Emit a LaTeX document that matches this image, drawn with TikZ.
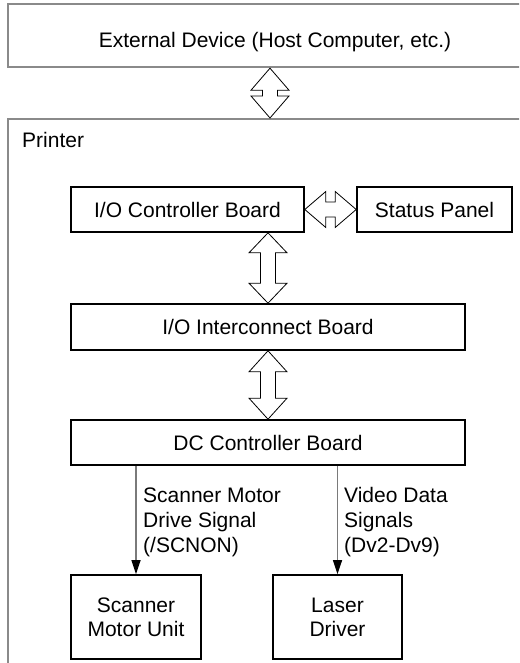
\documentclass[tikz,border=0pt]{standalone}
\usepackage{fontspec}
\setmainfont{Liberation Sans}
\usetikzlibrary{calc,arrows.meta}
\definecolor{framegray}{HTML}{8A8A8A}
\definecolor{linegray}{HTML}{7A7A7A}
\tikzset{
  outerbox/.style={draw=framegray, line width=2.2pt, anchor=north west, inner sep=0pt},
  innerbox/.style={draw=black, line width=1.6pt, inner sep=0pt, align=center, font=\fontsize{21}{24}\selectfont},
  txt/.style={inner sep=0pt, font=\fontsize{21}{25}\selectfont},
  barrow/.style={draw=black, line width=0.8pt, fill=white, line join=miter},
  thinarrow/.style={draw=linegray, line width=1.3pt, -{Triangle[length=14pt,width=9pt,fill=black,color=black]}}
}
\newcommand\vbarrow[4]{%
  \draw[barrow] let \p1=(#1), \p2=(#2) in
   (#3,\y1) -- (#3+19pt,\y1-#4) -- (#3+7.5pt,\y1-#4) -- (#3+7.5pt,\y2+#4) -- (#3+19pt,\y2+#4)
   -- (#3,\y2) -- (#3-19pt,\y2+#4) -- (#3-7.5pt,\y2+#4) -- (#3-7.5pt,\y1-#4) -- (#3-19pt,\y1-#4) -- cycle;}
\newcommand\hbarrow[4]{%
  \draw[barrow] let \p1=(#1), \p2=(#2) in
   (\x1,#3) -- (\x1+21pt,#3+18pt) -- (\x1+21pt,#3+7.5pt) -- (\x2-21pt,#3+7.5pt) -- (\x2-21pt,#3+18pt)
   -- (\x2,#3) -- (\x2-21pt,#3-18pt) -- (\x2-21pt,#3-7.5pt) -- (\x1+21pt,#3-7.5pt) -- (\x1+21pt,#3-18pt) -- cycle;}
\begin{document}
\begin{tikzpicture}[x=1pt,y=-1pt]
\useasboundingbox (0,0) rectangle (519,663);
\clip (0,0) rectangle (519,663);
% outer frames
\node[outerbox, minimum width=540pt, minimum height=63pt] (ext) at (7,3) {};
\node[txt] (exttext) at (275,42) {External Device (Host Computer, etc.)};
\node[outerbox, minimum width=540pt, minimum height=580pt] (printer) at (7,118) {};
\node[txt, anchor=west] (printertext) at (22,140) {Printer};
% inner boxes
\node[innerbox, minimum width=233pt, minimum height=45pt] (ioc) at (187.5,209.5) {I/O Controller Board};
\node[innerbox, minimum width=155pt, minimum height=45pt] (sp) at (434.5,209.5) {Status Panel};
\node[innerbox, minimum width=394pt, minimum height=46pt] (ioi) at (268,327) {I/O Interconnect Board};
\node[innerbox, minimum width=394pt, minimum height=45pt] (dc) at (268,442.5) {DC Controller Board};
\node[innerbox, minimum width=130pt, minimum height=84pt] (smu) at (136,617) {Scanner\\Motor Unit};
\node[innerbox, minimum width=129pt, minimum height=84pt] (ld) at (337.5,617) {Laser\\Driver};
% block arrows
\vbarrow{ext.south}{printer.north}{270pt}{22pt}
\hbarrow{ioc.east}{sp.west}{-209.5pt}{21pt}
\vbarrow{ioc.south}{ioi.north}{268pt}{20pt}
\vbarrow{ioi.south}{dc.north}{268pt}{21pt}
% signal arrows
\draw[thinarrow] (dc.south -| smu.north) -- (smu.north);
\draw[thinarrow] (dc.south -| ld.north) -- (ld.north);
\node[txt, anchor=west, align=left] (lbl1) at (143,522) {Scanner Motor\\Drive Signal\\(/SCNON)};
\node[txt, anchor=west, align=left] (lbl2) at (344,522) {Video Data\\Signals\\(Dv2-Dv9)};
\end{tikzpicture}
\end{document}
